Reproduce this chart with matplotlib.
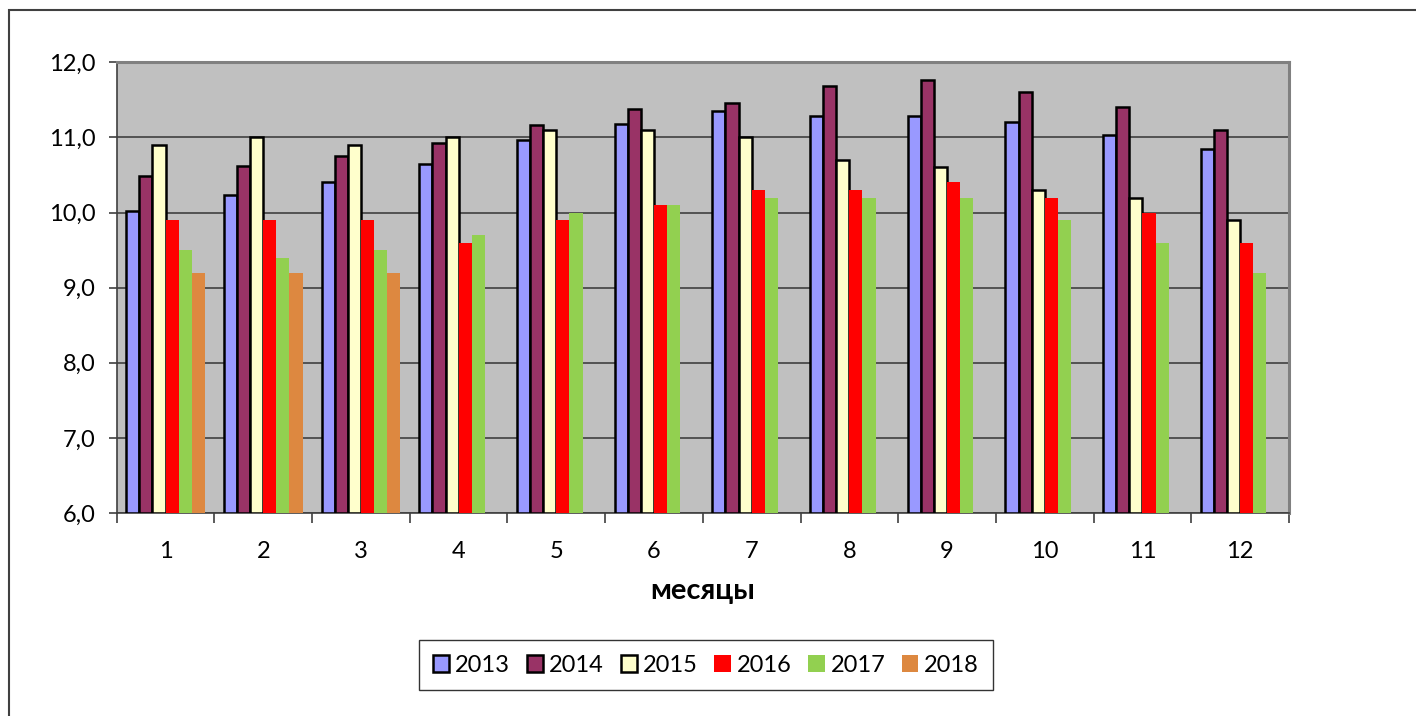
import numpy as np
import matplotlib.pyplot as plt
from matplotlib.patches import Rectangle
from matplotlib.ticker import FuncFormatter, MultipleLocator

plt.rcParams['font.family'] = ['Lato', 'DejaVu Sans']

# данные по месяцам
months = ["1", "2", "3", "4", "5", "6", "7", "8", "9", "10", "11", "12"]
years = ["2013", "2014", "2015", "2016", "2017", "2018"]
v2013 = [10.02, 10.23, 10.4, 10.64, 10.97, 11.18, 11.35, 11.29, 11.28, 11.2, 11.03, 10.84]
v2014 = [10.49, 10.62, 10.75, 10.93, 11.17, 11.38, 11.46, 11.69, 11.76, 11.6, 11.4, 11.1]
v2015 = [10.9, 11.0, 10.9, 11.0, 11.1, 11.1, 11.0, 10.7, 10.6, 10.3, 10.2, 9.9]
v2016 = [9.9, 9.9, 9.9, 9.6, 9.9, 10.1, 10.3, 10.3, 10.4, 10.2, 10.0, 9.6]
v2017 = [9.5, 9.4, 9.5, 9.7, 10.0, 10.1, 10.2, 10.2, 10.2, 9.9, 9.6, 9.2]
v2018 = [9.2, 9.2, 9.2] + [np.nan] * 9

series = [v2013, v2014, v2015, v2016, v2017, v2018]
colors = ["#9999FF", "#993366", "#FFFFCC", "#FF0000", "#92D050", "#DD8840"]
outlined = [True, True, True, False, False, False]

W, H = 1416, 716
fig = plt.figure(figsize=(W / 100, H / 100), dpi=100)

# внешняя рамка
fig.patches.append(Rectangle((9 / W, -0.1), 1.2, 1 - 10 / H + 0.1, transform=fig.transFigure,
                             fill=False, edgecolor="#404040", linewidth=1.5))

ax = fig.add_axes([116.7 / W, (H - 513) / H, (1289 - 116.7) / W, (513 - 62.3) / H])
ax.set_facecolor("#C0C0C0")

x = np.arange(len(months))
group = 0.805
w = group / len(series)
for j, (vals, c, ol) in enumerate(zip(series, colors, outlined)):
    vals = np.array(vals, dtype=float)
    ax.bar(x + (j - 2.5) * w, vals - 6.0, bottom=6.0, width=w, color=c,
           edgecolor="black" if ol else c, linewidth=1.8 if ol else 0,
           label=years[j], zorder=3)

ax.set_xlim(-0.5, 11.5)
ax.set_ylim(6, 12)
ax.yaxis.set_major_locator(MultipleLocator(1))
ax.yaxis.set_major_formatter(FuncFormatter(lambda v, p: f"{v:.1f}".replace(".", ",")))
ax.grid(axis="y", color="#404040", linewidth=1.2, zorder=1)

ax.set_xticks(x)
ax.set_xticklabels(months)
ax.set_xticks(np.arange(-0.5, 12, 1), minor=True)
ax.tick_params(axis="x", which="major", length=0, pad=20, labelsize=17)
ax.tick_params(axis="x", which="minor", length=7, width=1.2, color="#404040", direction="out")
ax.tick_params(axis="y", length=6, width=1.2, color="#404040", direction="out", labelsize=17, pad=9)

for s in ["top", "right"]:
    ax.spines[s].set_color("#808080")
    ax.spines[s].set_linewidth(2.2)
for s in ["left", "bottom"]:
    ax.spines[s].set_color("#404040")
    ax.spines[s].set_linewidth(1.2)

ax.set_xlabel("месяцы", fontsize=21, fontweight="bold", labelpad=12)

leg = fig.legend(loc="center", bbox_to_anchor=(706 / W, 1 - 665 / H), ncol=6, fontsize=17,
                 frameon=True, fancybox=False, edgecolor="black", handlelength=0.7,
                 handleheight=0.7, handletextpad=0.25, columnspacing=0.7, borderpad=0.6)
leg.get_frame().set_linewidth(1.0)

fig.savefig("out.png", dpi=100)
